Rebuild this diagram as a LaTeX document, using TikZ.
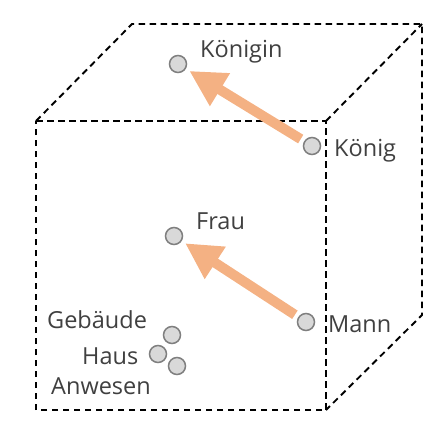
\documentclass[tikz,border=0pt]{standalone}
\usepackage{fontspec}
\setmainfont{Open Sans}
\usetikzlibrary{arrows.meta}
\definecolor{txt}{HTML}{404040}
\definecolor{ptfill}{HTML}{D9D9D9}
\definecolor{ptdraw}{HTML}{7F7F7F}
\definecolor{arrcol}{HTML}{F4B183}
\tikzset{
  edge/.style={draw=black, line width=1.9pt, dash pattern=on 6.5pt off 4.5pt},
  pt/.style={circle, minimum size=17pt, inner sep=0pt, fill=ptfill, draw=ptdraw, line width=1.5pt},
  word/.style={anchor=base west, inner sep=0pt, text=txt, font=\fontsize{23.5}{28}\selectfont},
  bigarrow/.style={draw=arrcol, line width=10pt, -{Triangle[length=36pt,width=36pt]}, shorten <=4pt, shorten >=4pt}
}
\begin{document}
\begin{tikzpicture}[x=1pt,y=-1pt]
\useasboundingbox (0,0) rectangle (446,434);
% cube
\coordinate (fTL) at (36,121);
\coordinate (fTR) at (326,121);
\coordinate (fBR) at (326,410);
\coordinate (fBL) at (36,410);
\coordinate (bTL) at (132,24);
\coordinate (bTR) at (422,24);
\coordinate (bBR) at (422,315);
\draw[edge] (fTL) -- (fTR) -- (fBR) -- (fBL) -- cycle;
\draw[edge] (fTL) -- (bTL) -- (bTR) -- (bBR) -- (fBR);
\draw[edge] (fTR) -- (bTR);
% points
\node[pt] (koenigin) at (178,64) {};
\node[pt] (koenig) at (312,146) {};
\node[pt] (frau) at (174,236) {};
\node[pt] (mann) at (306,322) {};
\node[pt] (gebaeude) at (172,335) {};
\node[pt] (haus) at (158,354) {};
\node[pt] (anwesen) at (177,366) {};
% labels
\node[word] (lkoenigin) at (200,57) {Königin};
\node[word] (lkoenig) at (334,156) {König};
\node[word] (lfrau) at (196,229) {Frau};
\node[word] (lmann) at (328,332) {Mann};
\node[word] (lgebaeude) at (47,328) {Gebäude};
\node[word] (lhaus) at (82,364) {Haus};
\node[word] (lanwesen) at (51,394) {Anwesen};
% arrows
\draw[bigarrow] (koenig) -- (koenigin);
\draw[bigarrow] (mann) -- (frau);
\end{tikzpicture}
\end{document}
